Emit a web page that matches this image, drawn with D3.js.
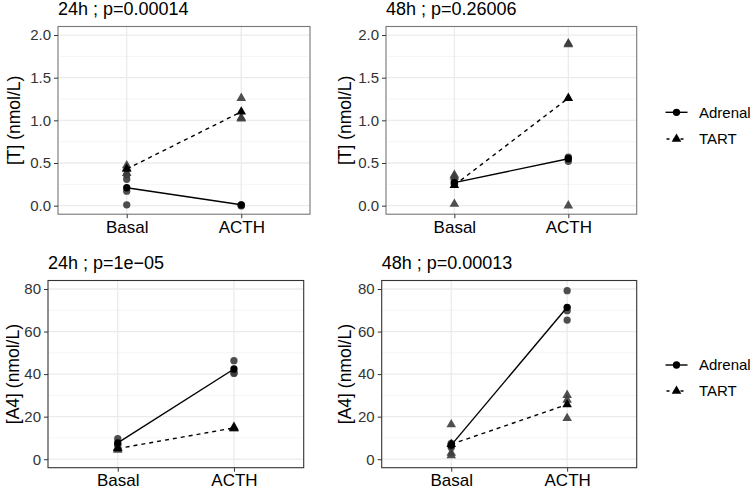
<!DOCTYPE html>
<html>
<head>
<meta charset="utf-8">
<script src="https://cdn.jsdelivr.net/npm/d3@7"></script>
<style>
  body { margin: 0; background: #fff; }
  text { font-family: "Liberation Sans", Arial, sans-serif; }
</style>
</head>
<body>
<script>
// categories
var timepoints = ["Basal", "ACTH"];
var groups = ["Adrenal", "TART"];
var panelTitles = ["24h ; p=0.00014", "48h ; p=0.26006", "24h ; p=1e\u221205", "48h ; p=0.00013"];
var yTitles = ["[T] (nmol/L)", "[T] (nmol/L)", "[A4] (nmol/L)", "[A4] (nmol/L)"];
var tTicks = [0, 0.5, 1, 1.5, 2];
var a4Ticks = [0, 20, 40, 60, 80];

// individual values, [Basal, ACTH]
var t24Adrenal = [[0.01, 0.31, 0.36, 0.17], [0.0, 0.01, 0.0]];
var t24Tart = [[0.47, 0.44, 0.38], [1.26, 1.02, 1.03]];
var t48Adrenal = [[0.29, 0.25, 0.27], [0.57, 0.52, 0.56]];
var t48Tart = [[0.36, 0.02, 0.34], [1.9, 1.89, 0.0]];
var a24Adrenal = [[9.6, 6.5, 7.0], [46.3, 40.3, 40.8]];
var a24Tart = [[5.5, 4.3, 5.2], [14.3, 15.2, 14.6]];
var a48Adrenal = [[6.8, 5.5, 7.4], [79.2, 69.8, 65.4]];
var a48Tart = [[16.3, 2.9, 1.8], [30.1, 27.8, 19.2]];

// group means, [Basal, ACTH]
var t24AdrenalMean = [0.21, 0.01];
var t24TartMean = [0.43, 1.1];
var t48AdrenalMean = [0.27, 0.55];
var t48TartMean = [0.24, 1.26];
var a24AdrenalMean = [7.7, 42.4];
var a24TartMean = [5.0, 14.7];
var a48AdrenalMean = [6.6, 71.4];
var a48TartMean = [7.0, 25.7];

var svg = d3.select("body").append("svg")
    .attr("width", 752)
    .attr("height", 490);

var panels = [
  {box: [58, 26.5, 310, 214.2], ytx: 14, title: panelTitles[0], ylab: yTitles[0], ticks: tTicks, dom: [-0.1, 2.1], fmt: d3.format(".1f"),
   adrenal: t24Adrenal, tart: t24Tart, adrenalMean: t24AdrenalMean, tartMean: t24TartMean, border: "#777"},
  {box: [386, 26.5, 636.7, 214.2], ytx: 345, title: panelTitles[1], ylab: yTitles[1], ticks: tTicks, dom: [-0.1, 2.1], fmt: d3.format(".1f"),
   adrenal: t48Adrenal, tart: t48Tart, adrenalMean: t48AdrenalMean, tartMean: t48TartMean, border: "#777"},
  {box: [48, 280.5, 303.7, 467.7], ytx: 13, title: panelTitles[2], ylab: yTitles[2], ticks: a4Ticks, dom: [-4, 84], fmt: d3.format("d"),
   adrenal: a24Adrenal, tart: a24Tart, adrenalMean: a24AdrenalMean, tartMean: a24TartMean, border: "#333"},
  {box: [381.7, 280.5, 636.7, 467.7], ytx: 345, title: panelTitles[3], ylab: yTitles[3], ticks: a4Ticks, dom: [-4, 84], fmt: d3.format("d"),
   adrenal: a48Adrenal, tart: a48Tart, adrenalMean: a48AdrenalMean, tartMean: a48TartMean, border: "#333"}
];

var circle = d3.symbol().type(d3.symbolCircle).size(42);
var triangle = d3.symbol().type(d3.symbolTriangle).size(40);

panels.forEach(function(p) {
  var l = p.box[0], t = p.box[1], r = p.box[2], b = p.box[3];

  var x = d3.scalePoint().domain(timepoints).range([l, r]).padding(0.6);
  var y = d3.scaleLinear().domain(p.dom).range([b, t]);

  var g = svg.append("g");

  // minor gridlines
  var minor = d3.range(p.ticks.length - 1).map(function(i) { return (p.ticks[i] + p.ticks[i + 1]) / 2; });
  g.selectAll(".minor").data(minor).enter().append("line")
      .attr("x1", l).attr("x2", r)
      .attr("y1", function(d) { return y(d); }).attr("y2", function(d) { return y(d); })
      .attr("stroke", "#f2f2f2").attr("stroke-width", 0.8);

  // major gridlines
  g.selectAll(".majory").data(p.ticks).enter().append("line")
      .attr("x1", l).attr("x2", r)
      .attr("y1", function(d) { return y(d); }).attr("y2", function(d) { return y(d); })
      .attr("stroke", "#ebebeb").attr("stroke-width", 1.3);
  g.selectAll(".majorx").data(timepoints).enter().append("line")
      .attr("x1", function(d) { return x(d); }).attr("x2", function(d) { return x(d); })
      .attr("y1", t).attr("y2", b)
      .attr("stroke", "#ebebeb").attr("stroke-width", 1.3);

  // individual points
  [[p.adrenal, circle], [p.tart, triangle]].forEach(function(s) {
    s[0].forEach(function(vals, i) {
      g.selectAll(null).data(vals).enter().append("path")
          .attr("d", s[1])
          .attr("transform", function(d) { return "translate(" + x(timepoints[i]) + "," + y(d) + ")"; })
          .attr("fill", "#3c3c3c")
          .attr("opacity", 0.9);
    });
  });

  // mean lines
  var line = d3.line()
      .x(function(d, i) { return x(timepoints[i]); })
      .y(function(d) { return y(d); });

  g.append("path").datum(p.adrenalMean)
      .attr("d", line).attr("fill", "none")
      .attr("stroke", "black").attr("stroke-width", 1.4);
  g.append("path").datum(p.tartMean)
      .attr("d", line).attr("fill", "none")
      .attr("stroke", "black").attr("stroke-width", 1.4)
      .attr("stroke-dasharray", "4,4");

  // mean points
  g.selectAll(null).data(p.adrenalMean).enter().append("path")
      .attr("d", circle)
      .attr("transform", function(d, i) { return "translate(" + x(timepoints[i]) + "," + y(d) + ")"; })
      .attr("fill", "black");
  g.selectAll(null).data(p.tartMean).enter().append("path")
      .attr("d", triangle)
      .attr("transform", function(d, i) { return "translate(" + x(timepoints[i]) + "," + y(d) + ")"; })
      .attr("fill", "black");

  // panel border
  g.append("rect")
      .attr("x", l).attr("y", t).attr("width", r - l).attr("height", b - t)
      .attr("fill", "none").attr("stroke", p.border).attr("stroke-width", 1.1);

  // y axis
  var yAxis = g.append("g")
      .attr("transform", "translate(" + l + ",0)")
      .call(d3.axisLeft(y).tickValues(p.ticks).tickFormat(p.fmt).tickSize(4).tickPadding(3));
  yAxis.select(".domain").remove();
  yAxis.selectAll("line").attr("stroke", "#333");
  yAxis.selectAll("text").attr("fill", "#333").style("font-size", "15px")
      .style("font-family", "'Liberation Sans', Arial, sans-serif");

  // x axis
  var xAxis = g.append("g")
      .attr("transform", "translate(0," + b + ")")
      .call(d3.axisBottom(x).tickSize(4).tickPadding(2.5));
  xAxis.select(".domain").remove();
  xAxis.selectAll("line").attr("stroke", "#333");
  xAxis.selectAll("text").attr("fill", "black").style("font-size", "17px")
      .style("font-family", "'Liberation Sans', Arial, sans-serif");

  // title
  g.append("text")
      .attr("x", l).attr("y", t - 11.5)
      .style("font-size", "18px")
      .text(p.title);

  // y title
  g.append("text")
      .attr("transform", "translate(" + p.ytx + "," + ((t + b) / 2) + ") rotate(-90)")
      .attr("text-anchor", "middle")
      .attr("dy", "0.35em")
      .style("font-size", "17.5px")
      .text(p.ylab);
});

// legends
var legendY = [[112.3, 139], [365, 391]];
legendY.forEach(function(ly) {
  var lg = svg.append("g");
  groups.forEach(function(name, i) {
    var yy = ly[i];
    lg.append("line")
        .attr("x1", 665.5).attr("x2", 687.5)
        .attr("y1", yy).attr("y2", yy)
        .attr("stroke", "black").attr("stroke-width", 1.4)
        .attr("stroke-dasharray", i === 0 ? null : "3,4")
        .attr("stroke-dashoffset", i === 0 ? null : -1);
    lg.append("path")
        .attr("d", i === 0 ? circle : triangle)
        .attr("transform", "translate(676.5," + yy + ")")
        .attr("fill", "black");
    lg.append("text")
        .attr("x", 699).attr("y", yy)
        .attr("dy", "0.35em")
        .style("font-size", "15px")
        .text(name);
  });
});
</script>
</body>
</html>
